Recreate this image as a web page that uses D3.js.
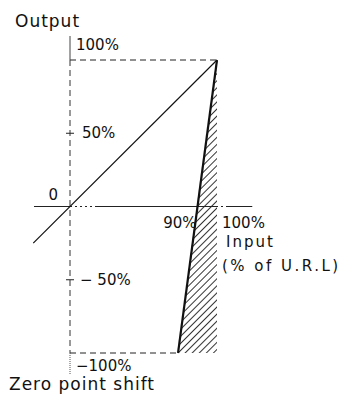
<!DOCTYPE html>
<html>
<head>
<meta charset="utf-8">
<script src="https://cdn.jsdelivr.net/npm/d3@7"></script>
<style>
  body { margin: 0; background: #fff; }
  svg { display: block; }
  text { font-family: "DejaVu Sans", sans-serif; fill: #111; }
</style>
</head>
<body>
<svg id="chart"></svg>
<script>
// input / output in % of U.R.L
const idealLine = [[-25, -25], [100, 100]]
const shiftedLine = [[100, 100], [73.5, -100]]
const outputTicks = [50, -50]
const outputTickLabels = ["50%", "− 50%"]
const outputLimits = [100, -100]
const outputLimitLabels = ["100%", "−100%"]
const inputMarks = [87.4, 100]
const inputMarkLabels = ["90%", "100%"]

const width = 341, height = 401

const x = d3.scaleLinear().domain([0, 100]).range([70, 217])
const y = d3.scaleLinear().domain([-100, 100]).range([353, 60])

const svg = d3.select("#chart")
    .attr("width", width)
    .attr("height", height)

const defs = svg.append("defs")
defs.append("pattern")
    .attr("id", "hatch")
    .attr("patternUnits", "userSpaceOnUse")
    .attr("width", 5)
    .attr("height", 5)
    .attr("patternTransform", "rotate(45)")
  .append("line")
    .attr("x1", 0).attr("y1", 0)
    .attr("x2", 0).attr("y2", 5)
    .attr("stroke", "#000")
    .attr("stroke-width", 1.6)

const line = d3.line().x(d => x(d[0])).y(d => y(d[1]))

// hatched area between shifted line and 100% input
const area = [[100, 100], [shiftedLine[1][0], -100], [100, -100]]
svg.append("path")
    .attr("d", line(area) + "Z")
    .attr("fill", "url(#hatch)")

// dashed frame
svg.append("line")
    .attr("x1", x(0)).attr("x2", x(100))
    .attr("y1", y(100)).attr("y2", y(100))
    .attr("stroke", "#222").attr("stroke-dasharray", "6,4")
svg.append("line")
    .attr("x1", x(0)).attr("x2", x(shiftedLine[1][0]))
    .attr("y1", y(-100)).attr("y2", y(-100))
    .attr("stroke", "#222").attr("stroke-dasharray", "6,4")

// output axis
svg.append("line")
    .attr("x1", x(0)).attr("x2", x(0))
    .attr("y1", 36).attr("y2", y(100))
    .attr("stroke", "#444")
svg.append("line")
    .attr("x1", x(0)).attr("x2", x(0))
    .attr("y1", y(100)).attr("y2", y(-100))
    .attr("stroke", "#333").attr("stroke-dasharray", "6,4")
svg.append("line")
    .attr("x1", x(0)).attr("x2", x(0))
    .attr("y1", y(-100)).attr("y2", 375)
    .attr("stroke", "#555").attr("stroke-dasharray", "1,1")

svg.selectAll(".tick")
    .data(outputTicks)
    .enter().append("line")
    .attr("x1", x(0) - 4).attr("x2", x(0) + 4)
    .attr("y1", d => y(d)).attr("y2", d => y(d))
    .attr("stroke", "#222")

svg.selectAll(".tickLabel")
    .data(outputTicks)
    .enter().append("text")
    .attr("x", (d, i) => i === 0 ? x(0) + 12 : x(0) + 10)
    .attr("y", d => y(d) + 5)
    .style("font-size", "15px")
    .text((d, i) => outputTickLabels[i])

svg.selectAll(".limitLabel")
    .data(outputLimits)
    .enter().append("text")
    .attr("x", x(0) + 6)
    .attr("y", d => d > 0 ? y(d) - 10 : y(d) + 18)
    .style("font-size", "15px")
    .text((d, i) => outputLimitLabels[i])

// input axis
svg.append("line")
    .attr("x1", x(-24.5)).attr("x2", x(124))
    .attr("y1", y(0)).attr("y2", y(0))
    .attr("stroke", "#222")
svg.append("line")
    .attr("x1", x(0) + 2).attr("x2", x(18))
    .attr("y1", y(0)).attr("y2", y(0))
    .attr("stroke", "#fff").attr("stroke-width", 1.4)
    .attr("stroke-dasharray", "3,2")
svg.append("line")
    .attr("x1", x(100) + 1).attr("x2", x(107))
    .attr("y1", y(0)).attr("y2", y(0))
    .attr("stroke", "#fff").attr("stroke-width", 1.4)
    .attr("stroke-dasharray", "3,2")

svg.append("text")
    .attr("x", x(0) - 12).attr("y", y(0) - 7)
    .attr("text-anchor", "end")
    .style("font-size", "15px")
    .text("0")

svg.selectAll(".inputLabel")
    .data(inputMarks)
    .enter().append("text")
    .attr("x", (d, i) => i === 0 ? x(d) - 2 : x(d) + 5)
    .attr("y", y(0) + 21)
    .attr("text-anchor", (d, i) => i === 0 ? "end" : "start")
    .style("font-size", "15px")
    .text((d, i) => inputMarkLabels[i])

// lines
svg.append("path")
    .attr("d", line(idealLine))
    .attr("fill", "none")
    .attr("stroke", "#111")
    .attr("stroke-width", 1.2)

svg.append("path")
    .attr("d", line(shiftedLine))
    .attr("fill", "none")
    .attr("stroke", "#111")
    .attr("stroke-width", 2.2)

// titles
svg.append("text")
    .attr("x", 15).attr("y", 27)
    .style("font-size", "17px")
    .style("letter-spacing", "1px")
    .text("Output")

svg.append("text")
    .attr("x", x(100) + 9).attr("y", y(0) + 40)
    .style("font-size", "15px")
    .style("letter-spacing", "2px")
    .text("Input")

svg.append("text")
    .attr("x", x(100) + 5).attr("y", y(0) + 64)
    .style("font-size", "15px")
    .style("letter-spacing", "2.5px")
    .text("(% of U.R.L)")

svg.append("text")
    .attr("x", 9).attr("y", 390)
    .style("font-size", "17px")
    .style("letter-spacing", "1px")
    .text("Zero point shift")
</script>
</body>
</html>
